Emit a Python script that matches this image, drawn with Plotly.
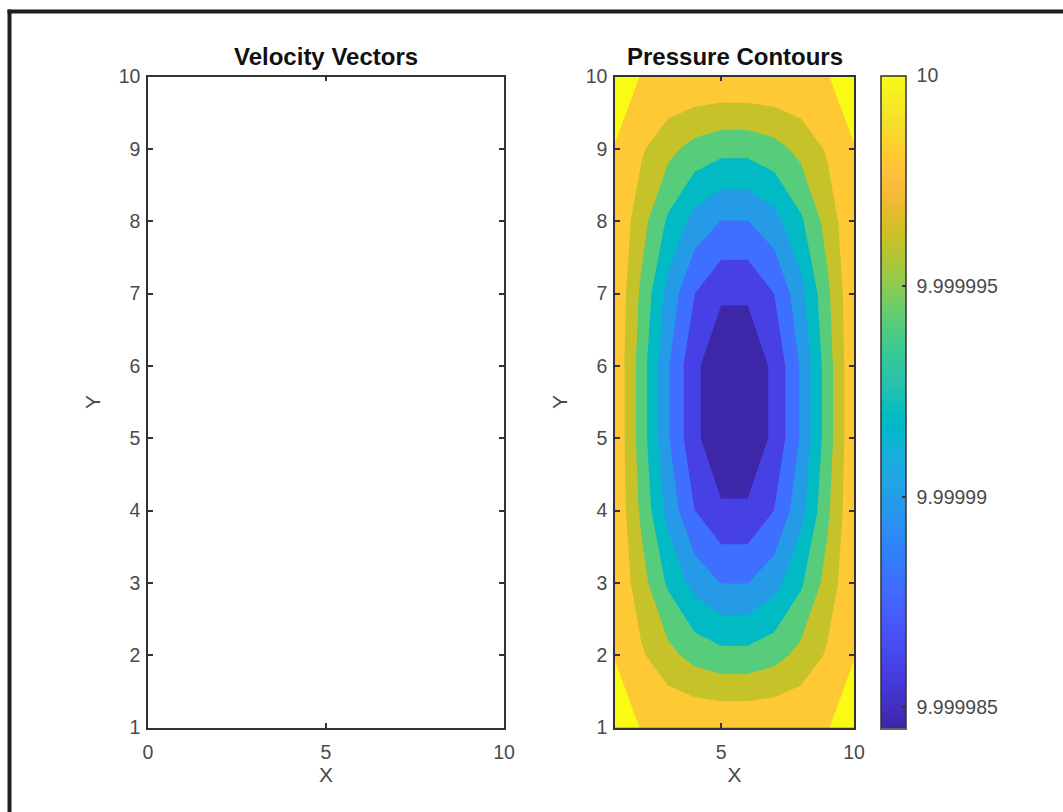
import plotly.graph_objects as go

# ---------------- data ----------------
x_grid = [1, 2, 3, 4, 5, 6, 7, 8, 9, 10]
y_grid = [1, 2, 3, 4, 5, 6, 7, 8, 9, 10]

row_a = [10.00000012, 9.99999999, 9.999999968, 9.999999956, 9.99999995, 9.99999995, 9.999999956, 9.999999968, 9.99999999, 10.00000012]
row_b = [9.99999999, 9.999998258, 9.999996586, 9.999995279, 9.9999946, 9.9999946, 9.999995279, 9.999996586, 9.999998258, 9.99999999]
row_c = [9.999999806, 9.999996774, 9.999993677, 9.999991258, 9.99998995, 9.99998995, 9.999991258, 9.999993677, 9.999996774, 9.999999806]
row_d = [9.999999735, 9.999995581, 9.999991338, 9.999988023, 9.9999863, 9.9999863, 9.999988023, 9.999991338, 9.999995581, 9.999999735]
row_e = [9.9999997, 9.999995, 9.9999902, 9.99998645, 9.9999845, 9.9999845, 9.99998645, 9.9999902, 9.999995, 9.9999997]
pressure = [row_a, row_b, row_c, row_d, row_e, row_e, row_d, row_c, row_b, row_a]

contour_levels = [9.999986, 9.999988, 9.99999, 9.999992, 9.999994, 9.999996, 9.999998, 10.0]
c_min = 9.9999845
c_max = 10.0

cbar_tickvals = [9.999985, 9.99999, 9.999995, 10.0]
cbar_ticktext = ["9.999985", "9.99999", "9.999995", "10"]

left_xticks = [0, 5, 10]
right_xticks = [5, 10]
yticks = [1, 2, 3, 4, 5, 6, 7, 8, 9, 10]

# ---------------- styling ----------------
PARULA = [
    (0.2422, 0.1504, 0.6603), (0.2504, 0.1650, 0.7076), (0.2578, 0.1818, 0.7511), (0.2647, 0.1978, 0.7952),
    (0.2706, 0.2147, 0.8364), (0.2751, 0.2342, 0.8710), (0.2783, 0.2559, 0.8991), (0.2803, 0.2782, 0.9221),
    (0.2813, 0.3006, 0.9414), (0.2810, 0.3228, 0.9579), (0.2795, 0.3447, 0.9717), (0.2760, 0.3667, 0.9829),
    (0.2699, 0.3892, 0.9906), (0.2602, 0.4123, 0.9952), (0.2440, 0.4358, 0.9988), (0.2206, 0.4603, 0.9973),
    (0.1963, 0.4847, 0.9892), (0.1834, 0.5074, 0.9798), (0.1786, 0.5289, 0.9682), (0.1764, 0.5499, 0.9520),
    (0.1687, 0.5703, 0.9359), (0.1540, 0.5902, 0.9218), (0.1460, 0.6091, 0.9079), (0.1380, 0.6276, 0.8973),
    (0.1248, 0.6459, 0.8883), (0.1113, 0.6635, 0.8763), (0.0952, 0.6798, 0.8598), (0.0689, 0.6948, 0.8394),
    (0.0297, 0.7082, 0.8163), (0.0036, 0.7203, 0.7917), (0.0067, 0.7312, 0.7660), (0.0433, 0.7411, 0.7394),
    (0.0964, 0.7500, 0.7120), (0.1408, 0.7584, 0.6842), (0.1717, 0.7670, 0.6554), (0.1938, 0.7758, 0.6251),
    (0.2161, 0.7843, 0.5923), (0.2470, 0.7918, 0.5567), (0.2906, 0.7973, 0.5188), (0.3406, 0.8008, 0.4789),
    (0.3909, 0.8029, 0.4354), (0.4456, 0.8024, 0.3909), (0.5044, 0.7993, 0.3480), (0.5616, 0.7942, 0.3045),
    (0.6174, 0.7876, 0.2612), (0.6720, 0.7793, 0.2227), (0.7242, 0.7698, 0.1910), (0.7738, 0.7598, 0.1646),
    (0.8203, 0.7498, 0.1535), (0.8634, 0.7406, 0.1596), (0.9035, 0.7330, 0.1774), (0.9393, 0.7288, 0.2100),
    (0.9728, 0.7298, 0.2394), (0.9956, 0.7434, 0.2371), (0.9970, 0.7659, 0.2199), (0.9952, 0.7893, 0.2028),
    (0.9892, 0.8136, 0.1885), (0.9786, 0.8386, 0.1766), (0.9676, 0.8639, 0.1643), (0.9610, 0.8890, 0.1537),
    (0.9597, 0.9135, 0.1423), (0.9628, 0.9373, 0.1265), (0.9691, 0.9606, 0.1064), (0.9769, 0.9839, 0.0805),
]


def rgb(c):
    return "rgb(%d,%d,%d)" % tuple(round(v * 255) for v in c)


def parula_at(pos):
    idx = min(max(int(pos * 64), 0), 63)
    return rgb(PARULA[idx])


parula_scale = [[i / 63, rgb(c)] for i, c in enumerate(PARULA)]

# MATLAB-style band colours: each filled band takes the colour of its lower level
band_lower = [c_min] + contour_levels
n_bands = len(band_lower)
band_colors = [parula_at((v - c_min) / (c_max - c_min)) for v in band_lower]
band_scale = [[k / (n_bands - 1), col] for k, col in enumerate(band_colors)]

W, H = 1063, 812
FONT = "Liberation Sans, Arial, Helvetica, sans-serif"
AX_COL = "#333333"
TXT_COL = "#4a4a4a"
NBSP = "\u00a0"

L_X0, L_X1 = 148, 504
R_X0, R_X1 = 615, 854
Y_TOP, Y_BOT = 76.5, 727.5
CB_X0 = 881


def px_x(p):
    return p / W


def px_y(p):
    return 1 - p / H


fig = go.Figure()

fig.add_trace(go.Scatter(x=[], y=[], xaxis="x", yaxis="y", mode="markers", showlegend=False))

fig.add_trace(go.Contour(
    x=x_grid, y=y_grid, z=pressure,
    xaxis="x2", yaxis="y2",
    autocontour=False,
    contours=dict(start=contour_levels[0], end=contour_levels[-1],
                  size=(contour_levels[-1] - contour_levels[0]) / (len(contour_levels) - 1),
                  coloring="fill", showlines=False),
    line=dict(width=0, smoothing=0),
    colorscale=band_scale,
    showscale=False,
    hoverinfo="skip",
))

fig.add_trace(go.Scatter(
    x=[5.5, 5.5], y=[5.5, 5.5], xaxis="x2", yaxis="y2", mode="markers",
    marker=dict(size=1, opacity=0, color=[c_min, c_max], colorscale=parula_scale,
                cmin=c_min, cmax=c_max, showscale=True,
                colorbar=dict(
                    x=px_x(CB_X0), xanchor="left", xpad=0, ypad=0,
                    y=px_y((Y_TOP + Y_BOT) / 2), yanchor="middle",
                    len=Y_BOT - Y_TOP + 1.5, lenmode="pixels",
                    thickness=25, thicknessmode="pixels",
                    outlinewidth=1.5, outlinecolor=AX_COL,
                    ticks="inside", ticklen=4, tickcolor=AX_COL, tickwidth=1.5,
                    tickvals=cbar_tickvals, ticktext=[NBSP + t for t in cbar_ticktext],
                    tickfont=dict(family=FONT, size=19.5, color=TXT_COL),
                    borderwidth=0,
                )),
    hoverinfo="skip", showlegend=False,
))

axis_common = dict(
    showline=True, linecolor=AX_COL, linewidth=1.5, mirror="ticks",
    ticks="inside", ticklen=5, tickwidth=1.5, tickcolor=AX_COL,
    tickfont=dict(family=FONT, size=19.5, color=TXT_COL),
    showgrid=False, zeroline=False, automargin=False, fixedrange=True,
)
ydom = [px_y(Y_BOT), px_y(Y_TOP)]
title_font = dict(family=FONT, size=21, color=TXT_COL)

fig.update_layout(
    template="none",
    width=W, height=H,
    margin=dict(l=0, r=0, t=0, b=0, pad=0),
    paper_bgcolor="white", plot_bgcolor="white",
    showlegend=False,
    xaxis=dict(axis_common, domain=[px_x(L_X0), px_x(L_X1)], range=[0, 10], tickvals=left_xticks,
               anchor="y", ticklabelstandoff=6,
               title=dict(text="X", font=title_font, standoff=6)),
    yaxis=dict(axis_common, domain=ydom, range=[1, 10], tickvals=yticks, anchor="x",
               ticklabelstandoff=2,
               title=dict(text="Y", font=title_font, standoff=12)),
    xaxis2=dict(axis_common, domain=[px_x(R_X0), px_x(R_X1)], range=[1, 10], tickvals=right_xticks,
                anchor="y2", ticklabelstandoff=6,
                title=dict(text="X", font=title_font, standoff=6)),
    yaxis2=dict(axis_common, domain=ydom, range=[1, 10], tickvals=yticks, anchor="x2",
                ticklabelstandoff=2,
                title=dict(text="Y", font=title_font, standoff=12)),
    annotations=[
        dict(text="<b>Velocity Vectors</b>", xref="paper", yref="paper",
             x=px_x((L_X0 + L_X1) / 2), y=px_y(56), xanchor="center", yanchor="middle",
             showarrow=False, font=dict(family=FONT, size=24, color="#111111")),
        dict(text="<b>Pressure Contours</b>", xref="paper", yref="paper",
             x=px_x((R_X0 + R_X1) / 2), y=px_y(56), xanchor="center", yanchor="middle",
             showarrow=False, font=dict(family=FONT, size=24, color="#111111")),
    ],
    shapes=[
        dict(type="rect", xref="paper", yref="paper", x0=px_x(7.5), x1=1.0,
             y0=px_y(13.5), y1=px_y(9.5), fillcolor="#1e1e1e", line=dict(width=0), layer="above"),
        dict(type="rect", xref="paper", yref="paper", x0=px_x(7.5), x1=px_x(11.5),
             y0=0.0, y1=px_y(9.5), fillcolor="#1e1e1e", line=dict(width=0), layer="above"),
    ],
)

fig.write_html("out.html", config={"displayModeBar": False},
               post_script="document.body.style.margin='0';document.body.style.overflow='hidden';")
